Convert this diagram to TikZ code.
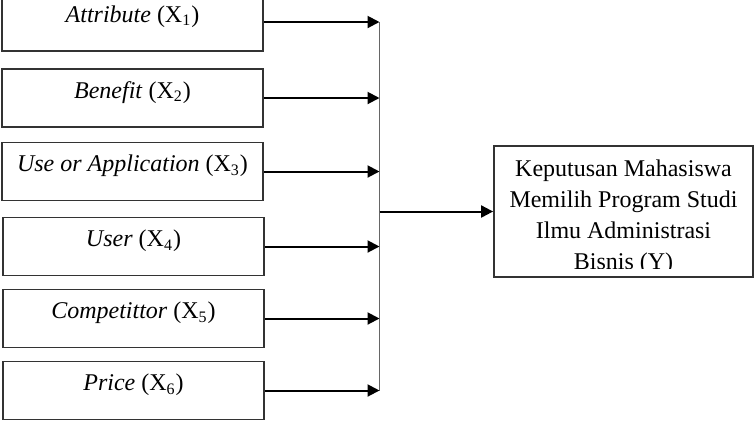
\documentclass[tikz,border=0pt]{standalone}
\usepackage{fontspec}
\setmainfont{Liberation Serif}
\usetikzlibrary{arrows.meta}
\begin{document}
\begin{tikzpicture}[
    x=0.5pt, y=-0.5pt,
    box/.style={draw=black!80, line width=0.9pt, minimum width=130.5pt, inner xsep=2pt, inner ysep=0pt, text height=14.5pt, text depth=14.5pt, font=\fontsize{12}{14}\selectfont},
    ybox/.style={draw=black!80, line width=0.9pt, minimum width=129.5pt, inner ysep=0pt, text height=61.8pt, text depth=3.7pt, align=center, font=\fontsize{12}{15.5}\selectfont},
    arr/.style={-{Triangle[length=6pt, width=6pt]}, line width=1pt}
]
    \useasboundingbox (0,0) rectangle (755,420);

    \node[box] (x1) at (132.5, 22) {\textit{Attribute} (X\textsubscript{1})};
    \node[box] (x2) at (132.5, 98) {\textit{Benefit} (X\textsubscript{2})};
    \node[box] (x3) at (132.5, 171.5) {\textit{Use or Application} (X\textsubscript{3})};
    \node[box] (x4) at (133.5, 246.5) {\textit{User} (X\textsubscript{4})};
    \node[box] (x5) at (133.5, 318.5) {\textit{Competittor} (X\textsubscript{5})};
    \node[box] (x6) at (133.5, 390.5) {\textit{Price} (X\textsubscript{6})};

    \node[ybox] (y) at (623.5, 211.5) {Keputusan Mahasiswa\\Memilih Program Studi\\Ilmu Administrasi\\Bisnis (Y)};
    % last line is cut off by the box
    \fill[white] ([xshift=1.3pt, yshift=1pt]y.south west) rectangle ([xshift=-1.3pt, yshift=4.7pt]y.south east);

    \coordinate (j1) at (379.5, 22);
    \coordinate (j6) at (379.5, 390.5);
    \coordinate (jy) at (379.5, 211.5);

    \draw[black!60, line width=0.8pt] (j1) -- (j6);
    \draw[arr] (x1.east) -- (j1);
    \draw[arr] (x2.east) -- (x2.east -| j1);
    \draw[arr] (x3.east) -- (x3.east -| j1);
    \draw[arr] (x4.east) -- (x4.east -| j1);
    \draw[arr] (x5.east) -- (x5.east -| j1);
    \draw[arr] (x6.east) -- (j6);
    \draw[arr] (jy) -- (y.west);
\end{tikzpicture}
\end{document}
